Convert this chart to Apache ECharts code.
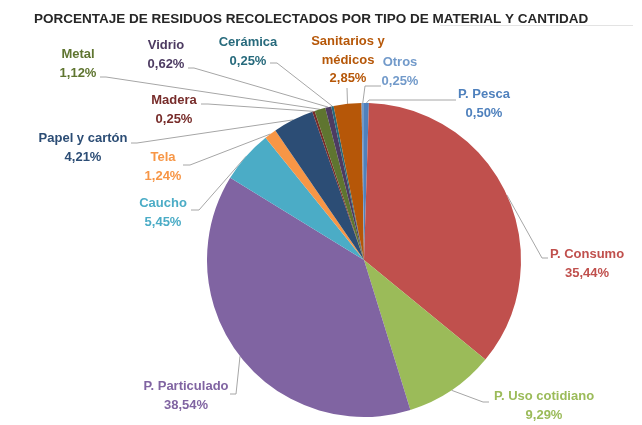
<!DOCTYPE html>
<html>
<head>
<meta charset="utf-8">
<script src="https://cdn.jsdelivr.net/npm/echarts@6/dist/echarts.min.js"></script>
<style>
    html, body {margin: 0; padding: 0; background: #fff;}
    #chart {width: 642px; height: 425px;}
</style>
</head>
<body>
<div id="chart"></div>
<script>
// datos del grafico (porcentaje por tipo de material)
const categories = ['P. Pesca', 'P. Consumo', 'P. Uso cotidiano', 'P. Particulado', 'Caucho', 'Tela',
    'Papel y cartón', 'Madera', 'Metal', 'Vidrio', 'Cerámica', 'Sanitarios y médicos', 'Otros']
const labelNames = ['P. Pesca', 'P. Consumo', 'P. Uso cotidiano', 'P. Particulado', 'Caucho', 'Tela',
    'Papel y cartón', 'Madera', 'Metal', 'Vidrio', 'Cerámica', 'Sanitarios y\nmédicos', 'Otros']
const percents = [0.50, 35.44, 9.29, 38.54, 5.45, 1.24, 4.21, 0.25, 1.12, 0.62, 0.25, 2.85, 0.25]

// colores tipo Excel 2010
const colors = ['#4F81BD', '#C0504D', '#9BBB59', '#8064A2', '#4BACC6', '#F79646',
    '#2C4D75', '#772C2A', '#5F7530', '#4D3B62', '#276A7C', '#B65708', '#729ACA']

// posicion de las etiquetas (centro del bloque) y de las lineas guia
const labelPos = [[484, 104], [587, 264], [544, 406], [186, 396], [163, 213], [163, 167],
    [83, 148], [174, 110], [78, 64], [166, 55], [248, 52], [348, 60], [400, 72]]
const leaderElbow = [[369, 100], [542, 258], [483, 402], [236, 394], [199, 210], [190, 165],
    [137, 143], [208, 104], [106, 77], [194, 68], [277, 63], [347, 88], [365, 86]]
const leaderEnd = [[456, 100], [548, 258], [489, 402], [230, 394], [191, 210], [183, 165],
    [131, 143], [201, 104], [100, 77], [188, 68], [270, 63], [347, 88], [381, 86]]

function fmtPct(v) {
    return v.toFixed(2).replace('.', ',') + '%'
}

let chart = echarts.init(document.getElementById('chart'), null, {renderer: 'canvas'})

let data = categories.map((name, i) => ({
    name: name,
    value: percents[i],
    itemStyle: {color: colors[i]},
    label: {color: colors[i]},
}))

chart.setOption({
    animation: false,
    title: {
        text: 'PORCENTAJE DE RESIDUOS RECOLECTADOS POR TIPO DE MATERIAL Y CANTIDAD',
        left: 29,
        top: 7,
        textStyle: {
            fontFamily: '"Liberation Sans", Arial, sans-serif',
            fontWeight: 'bold',
            fontSize: 13.5,
            color: '#262626',
        },
    },
    graphic: [{
        // linea gris clara bajo el titulo
        type: 'line',
        shape: {x1: 440, y1: 25.5, x2: 633, y2: 25.5},
        style: {stroke: '#E3E3E3', lineWidth: 1},
        silent: true,
    }],
    series: [{
        type: 'pie',
        center: [364, 260],
        radius: 157,
        startAngle: 90,
        clockwise: true,
        avoidLabelOverlap: false,
        data: data,
        label: {
            show: true,
            position: 'outer',
            fontFamily: '"Liberation Sans", Arial, sans-serif',
            fontWeight: 'bold',
            fontSize: 13,
            lineHeight: 18.5,
            formatter: (p) => labelNames[p.dataIndex] + '\n' + fmtPct(p.value),
        },
        labelLine: {
            show: true,
            length: 10,
            length2: 10,
            lineStyle: {color: '#A6A6A6', width: 1},
        },
        labelLayout: (params) => {
            let i = params.dataIndex
            let pts = params.labelLinePoints
            let p0 = pts && pts.length ? pts[0] : leaderElbow[i]
            return {
                x: labelPos[i][0],
                y: labelPos[i][1],
                align: 'center',
                verticalAlign: 'middle',
                labelLinePoints: [p0, leaderElbow[i], leaderEnd[i]],
            }
        },
    }],
})
</script>
</body>
</html>
